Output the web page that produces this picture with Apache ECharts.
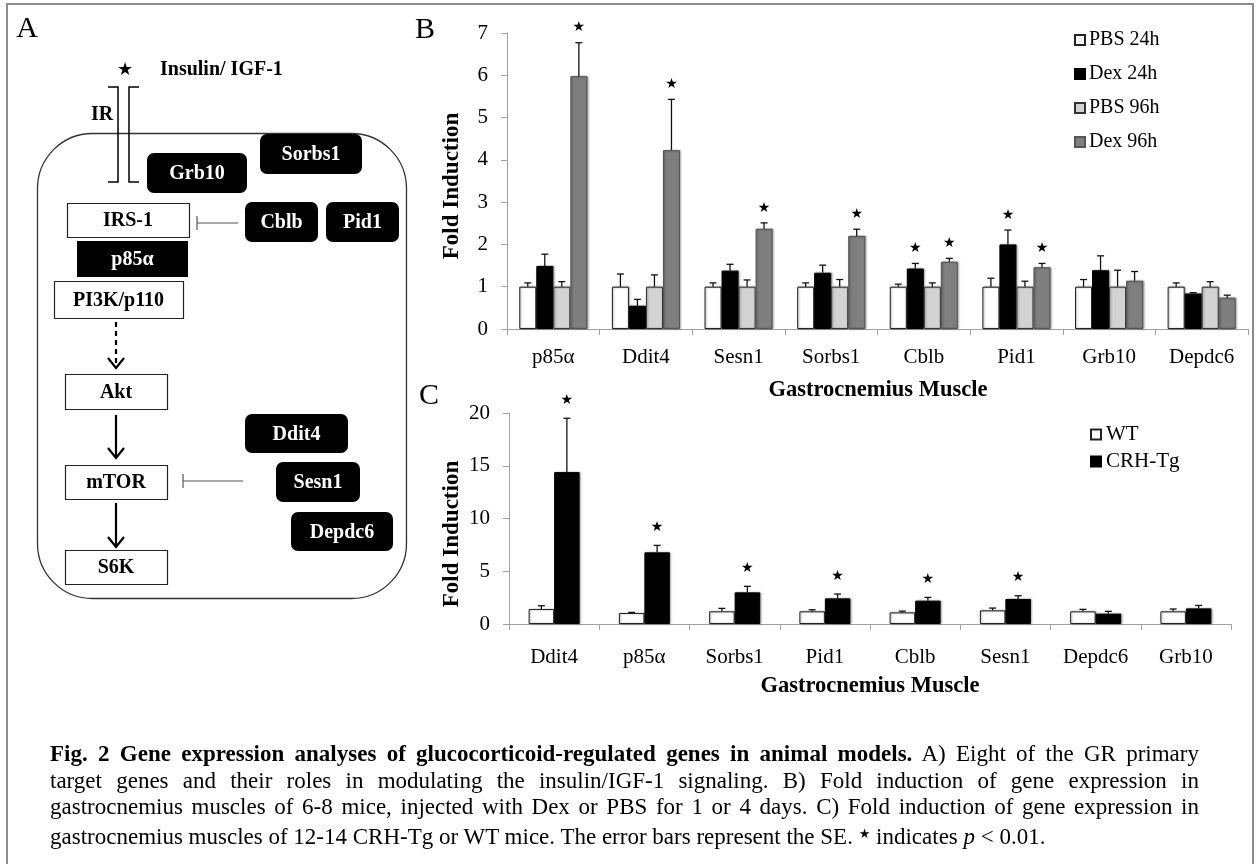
<!DOCTYPE html>
<html>
<head>
<meta charset="utf-8">
<script src="https://cdn.jsdelivr.net/npm/echarts/dist/echarts.min.js"></script>
<style>
  body { margin: 0; background: #fff; }
  #wrap { position: relative; width: 1256px; height: 864px; overflow: hidden; }
  #chart { position: absolute; left: 0; top: 0; width: 1256px; height: 864px; }
  #caption { position: absolute; left: 50px; top: 741px; width: 1149px; font-family: 'Liberation Serif', serif; font-size: 23px; line-height: 26.7px; color: #000; }
  #caption div { white-space: nowrap; }
  .star { font-family: 'DejaVu Sans'; font-size: 13px; vertical-align: 6px; }
</style>
</head>
<body>
<div id="wrap">
  <div id="chart"></div>
  <div id="caption">
    <div class="j"><b>Fig. 2 Gene expression analyses of glucocorticoid-regulated genes in animal models.</b> A) Eight of the GR primary</div>
    <div class="j">target genes and their roles in modulating the insulin/IGF-1 signaling. B) Fold induction of gene expression in</div>
    <div class="j">gastrocnemius muscles of 6-8 mice, injected with Dex or PBS for 1 or 4 days. C) Fold induction of gene expression in</div>
    <div>gastrocnemius muscles of 12-14 CRH-Tg or WT mice. The error bars represent the SE. <span class="star">★</span> indicates <i>p</i> &lt; 0.01.</div>
  </div>
</div>
<script>
// panel B - Dex / PBS injection
const genesB = ['p85α', 'Ddit4', 'Sesn1', 'Sorbs1', 'Cblb', 'Pid1', 'Grb10', 'Depdc6']
const pbs24 = [1, 1, 1, 1, 1, 1, 1, 1]
const pbs24Err = [0.09, 0.3, 0.09, 0.09, 0.06, 0.2, 0.17, 0.09]
const dex24 = [1.49, 0.55, 1.38, 1.33, 1.43, 2.0, 1.39, 0.84]
const dex24Err = [0.28, 0.15, 0.15, 0.18, 0.12, 0.34, 0.34, 0.02]
const pbs96 = [1, 1, 1, 1, 1, 1, 1, 1]
const pbs96Err = [0.12, 0.28, 0.16, 0.17, 0.09, 0.13, 0.39, 0.12]
const dex96 = [5.98, 4.23, 2.37, 2.2, 1.59, 1.46, 1.14, 0.74]
const dex96Err = [0.79, 1.2, 0.14, 0.16, 0.08, 0.09, 0.22, 0.06]
const noStars = [0, 0, 0, 0, 0, 0, 0, 0]
const starsDex24 = [0, 0, 0, 0, 1, 1, 0, 0]
const starsDex96 = [1, 1, 1, 1, 1, 1, 0, 0]
const ticksB = { min: 0, max: 7, interval: 1 }

// panel C - CRH-Tg vs WT
const genesC = ['Ddit4', 'p85α', 'Sorbs1', 'Pid1', 'Cblb', 'Sesn1', 'Depdc6', 'Grb10']
const wt = [1.42, 1.04, 1.2, 1.2, 1.1, 1.29, 1.2, 1.2]
const wtErr = [0.31, 0.06, 0.28, 0.15, 0.12, 0.22, 0.19, 0.22]
const crh = [14.4, 6.79, 3.0, 2.43, 2.21, 2.37, 0.98, 1.48]
const crhErr = [5.1, 0.66, 0.57, 0.41, 0.31, 0.31, 0.22, 0.28]
const starsCrh = [1, 1, 1, 1, 1, 1, 0, 0]
const ticksC = { min: 0, max: 20, interval: 5 }

const serif = 'Liberation Serif'
const gapB = 0.265
const gapC = 0.435

const chart = echarts.init(document.getElementById('chart'))

const barSeries = (name, axis, data, color, border, gap) => ({
  type: 'bar',
  name,
  xAxisIndex: axis,
  yAxisIndex: axis,
  data,
  barGap: 0,
  barCategoryGap: (gap * 100) + '%',
  itemStyle: {
    color,
    borderColor: border,
    borderWidth: 1,
    shadowBlur: 2,
    shadowOffsetX: 1,
    shadowColor: 'rgba(0,0,0,0.35)',
  },
  z: 2,
})

// upper error bar + significance star drawn next to its bar
const errSeries = (axis, values, errs, stars, idx, count, gap, starGap) => ({
  type: 'custom',
  xAxisIndex: axis,
  yAxisIndex: axis,
  silent: true,
  z: 4,
  data: values.map((v, i) => [i, v, v + errs[i], stars[i]]),
  renderItem: (params, api) => {
    const cat = api.value(0)
    const base = api.coord([cat, api.value(1)])
    const top = api.coord([cat, api.value(2)])
    const cw = api.size([1, 0])[0]
    const bw = cw * (1 - gap) / count
    const x = base[0] - bw * count / 2 + bw * (idx + 0.5)
    const st = { stroke: '#111', lineWidth: 1.3 }
    const children = [
      { type: 'line', shape: { x1: x, y1: base[1], x2: x, y2: top[1] }, style: st },
      { type: 'line', shape: { x1: x - 3.5, y1: top[1], x2: x + 3.5, y2: top[1] }, style: st },
    ]
    if (api.value(3)) {
      children.push({
        type: 'text',
        style: { text: '★', x, y: top[1] - starGap, align: 'center', verticalAlign: 'middle', font: '14px "DejaVu Sans"', fill: '#000' },
      })
    }
    return { type: 'group', children }
  },
})

const catAxis = (axis, data, margin) => ({
  type: 'category',
  gridIndex: axis,
  data,
  axisLine: { lineStyle: { color: '#a0a0a0', width: 1 } },
  axisTick: { show: true, length: 6, lineStyle: { color: '#a0a0a0' } },
  axisLabel: { color: '#000', fontFamily: serif, fontSize: 21, margin, interval: 0 },
})

const valAxis = (axis, ticks) => ({
  type: 'value',
  gridIndex: axis,
  min: ticks.min,
  max: ticks.max,
  interval: ticks.interval,
  splitLine: { show: false },
  axisLine: { show: true, lineStyle: { color: '#a0a0a0', width: 1 } },
  axisTick: { show: true, length: 6, lineStyle: { color: '#a0a0a0' } },
  axisLabel: { color: '#000', fontFamily: serif, fontSize: 21, margin: 19 },
})

// diagram helpers for panel A
const txtStyle = (text, x, y, fill, align) => ({
  text, x, y, fill: fill || '#000', align: align || 'center', verticalAlign: 'middle',
  font: 'bold 20px "Liberation Serif"',
})
const darkBox = (x, y, w, h, label, r) => ({
  type: 'group',
  children: [
    { type: 'rect', shape: { x, y, width: w, height: h, r: r === undefined ? 7 : r }, style: { fill: '#000' } },
    { type: 'text', style: txtStyle(label, x + w / 2, y + h / 2 + 1, '#fff') },
  ],
})
const whiteBox = (x, y, w, h, label) => ({
  type: 'group',
  children: [
    { type: 'rect', shape: { x: x + 0.5, y: y + 0.5, width: w, height: h }, style: { fill: '#fff', stroke: '#222', lineWidth: 1.2 } },
    { type: 'text', style: txtStyle(label, x + w / 2, y + h / 2 + 1) },
  ],
})
const arrow = (x, y1, y2, dashed) => ({
  type: 'group',
  children: [
    { type: 'line', shape: { x1: x, y1, x2: x, y2: y2 - 2 }, style: { stroke: '#000', lineWidth: 2.2, lineDash: dashed ? [5, 4] : null } },
    { type: 'polyline', shape: { points: [[x - 8, y2 - 10], [x, y2], [x + 8, y2 - 10]] }, style: { stroke: '#000', lineWidth: 2.2, fill: null } },
  ],
})
const inhibit = (x1, x2, y) => ({
  type: 'group',
  children: [
    { type: 'line', shape: { x1, y1: y, x2, y2: y }, style: { stroke: '#555', lineWidth: 1.2 } },
    { type: 'line', shape: { x1: x2, y1: y - 7, x2, y2: y + 7 }, style: { stroke: '#555', lineWidth: 1.2 } },
  ],
})
const label = (text, x, y, size, bold, rot) => ({
  type: 'text',
  x, y,
  rotation: rot || 0,
  style: {
    text, x: 0, y: 0, align: 'center', verticalAlign: 'middle', fill: '#000',
    font: (bold ? 'bold ' : '') + size + 'px "Liberation Serif"',
  },
})

const graphics = [
  // figure frame
  { type: 'polyline', shape: { points: [[7, 864], [7, 4], [1253, 4], [1253, 864]] }, style: { stroke: '#8c8c8c', lineWidth: 2, fill: null } },
  // panel letters
  label('A', 27, 29, 30, false),
  label('B', 425, 30, 30, false),
  label('C', 429, 396, 30, false),
  // cell outline
  { type: 'rect', shape: { x: 37.5, y: 133.5, width: 369, height: 465, r: 55 }, style: { fill: null, stroke: '#333', lineWidth: 1.3 } },
  // receptor
  { type: 'polyline', shape: { points: [[108, 87], [118, 87], [118, 182], [108, 182]] }, style: { stroke: '#000', lineWidth: 1.5, fill: null } },
  { type: 'polyline', shape: { points: [[139, 87], [129, 87], [129, 182], [139, 182]] }, style: { stroke: '#000', lineWidth: 1.5, fill: null } },
  { type: 'text', style: txtStyle('IR', 102, 115) },
  { type: 'text', style: { text: '★', x: 125, y: 70, align: 'center', verticalAlign: 'middle', font: '18px "DejaVu Sans"', fill: '#000' } },
  { type: 'text', style: txtStyle('Insulin/ IGF-1', 160, 70, '#000', 'left') },
  darkBox(147, 153, 100, 40, 'Grb10'),
  darkBox(260, 134, 102, 40, 'Sorbs1'),
  whiteBox(67, 203, 122, 34, 'IRS-1'),
  inhibit(238, 197, 223),
  darkBox(245, 202, 73, 40, 'Cblb'),
  darkBox(326, 202, 73, 40, 'Pid1'),
  darkBox(77, 241, 111, 36, 'p85α', 0),
  whiteBox(54, 281, 129, 37, 'PI3K/p110'),
  arrow(116, 322, 368, true),
  whiteBox(65, 374, 102, 35, 'Akt'),
  arrow(116, 415, 458, false),
  whiteBox(65, 465, 102, 34, 'mTOR'),
  inhibit(243, 183, 481),
  arrow(116, 503, 547, false),
  whiteBox(65, 550, 102, 34, 'S6K'),
  darkBox(245, 414, 103, 39, 'Ddit4'),
  darkBox(276, 462, 84, 40, 'Sesn1'),
  darkBox(291, 512, 102, 39, 'Depdc6'),
  // axis titles
  label('Fold Induction', 452, 186, 23, true, Math.PI / 2),
  label('Gastrocnemius Muscle', 878, 390, 22.5, true),
  label('Fold Induction', 452, 534, 23, true, Math.PI / 2),
  label('Gastrocnemius Muscle', 870, 686, 22.5, true),
]

chart.setOption({
  animation: false,
  backgroundColor: '#fff',
  grid: [
    { left: 507, top: 33, width: 741, height: 296 },
    { left: 509, top: 413, width: 722, height: 211 },
  ],
  xAxis: [catAxis(0, genesB, 18), catAxis(1, genesC, 23)],
  yAxis: [valAxis(0, ticksB), valAxis(1, ticksC)],
  legend: [
    {
      data: ['PBS 24h', 'Dex 24h', 'PBS 96h', 'Dex 96h'],
      orient: 'vertical',
      left: 1074,
      top: 30,
      itemWidth: 10,
      itemHeight: 10,
      itemGap: 14,
      icon: 'rect',
      padding: 0,
      textStyle: { color: '#000', fontFamily: serif, fontSize: 20, padding: [0, 0, 0, -1] },
      selectedMode: false,
    },
    {
      data: ['WT', 'CRH-Tg'],
      orient: 'vertical',
      left: 1090,
      top: 424,
      itemWidth: 10,
      itemHeight: 10,
      itemGap: 6,
      icon: 'rect',
      padding: 0,
      textStyle: { color: '#000', fontFamily: serif, fontSize: 21 },
      selectedMode: false,
    },
  ],
  graphic: graphics,
  series: [
    barSeries('PBS 24h', 0, pbs24, '#ffffff', '#222', gapB),
    barSeries('Dex 24h', 0, dex24, '#000000', '#000', gapB),
    barSeries('PBS 96h', 0, pbs96, '#d3d3d3', '#333', gapB),
    barSeries('Dex 96h', 0, dex96, '#7f7f7f', '#555', gapB),
    errSeries(0, pbs24, pbs24Err, noStars, 0, 4, gapB, 15),
    errSeries(0, dex24, dex24Err, starsDex24, 1, 4, gapB, 15),
    errSeries(0, pbs96, pbs96Err, noStars, 2, 4, gapB, 15),
    errSeries(0, dex96, dex96Err, starsDex96, 3, 4, gapB, 15),
    barSeries('WT', 1, wt, '#ffffff', '#222', gapC),
    barSeries('CRH-Tg', 1, crh, '#000000', '#000', gapC),
    errSeries(1, wt, wtErr, noStars, 0, 2, gapC, 18),
    errSeries(1, crh, crhErr, starsCrh, 1, 2, gapC, 18),
  ],
})

// stretch caption lines to the column width, like justified text
const target = document.getElementById('caption').clientWidth
document.querySelectorAll('#caption .j').forEach(line => {
  const span = document.createElement('span')
  span.innerHTML = line.innerHTML
  line.innerHTML = ''
  line.appendChild(span)
  const spaces = (span.textContent.match(/ /g) || []).length
  const extra = target - span.getBoundingClientRect().width
  line.style.wordSpacing = (extra / spaces) + 'px'
})
</script>
</body>
</html>
